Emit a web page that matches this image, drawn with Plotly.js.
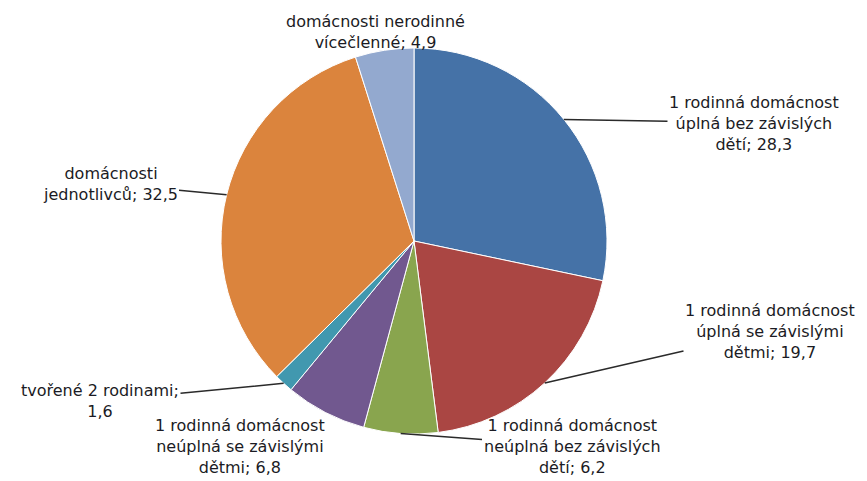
<!DOCTYPE html>
<html>
<head>
<meta charset="utf-8">
<script src="https://cdn.plot.ly/plotly-3.0.1.min.js"></script>
<style>html,body{margin:0;padding:0;background:#fff;}#chart{width:867px;height:481px;}</style>
</head>
<body>
<div id="chart"></div>
<script>
// ---- data ----
const categories = [
  "1 rodinná domácnost<br>úplná bez závislých<br>dětí",
  "1 rodinná domácnost<br>úplná se závislými<br>dětmi",
  "1 rodinná domácnost<br>neúplná bez závislých<br>dětí",
  "1 rodinná domácnost<br>neúplná se závislými<br>dětmi",
  "tvořené 2 rodinami",
  "domácnosti<br>jednotlivců",
  "domácnosti nerodinné<br>vícečlenné"
];
const values = [28.3, 19.7, 6.2, 6.8, 1.6, 32.5, 4.9];
const valueSeparators = ["; ", "; ", "; ", "; ", ";<br>", "; ", "; "];
const colors = ["#4572a7", "#aa4643", "#89a54e", "#71588f", "#4198af", "#db843d", "#93a9cf"];

// ---- layout / style ----
const W = 867, H = 481;
const cx = 414, cy = 241, R = 193;
// label block centres (pixels) and whether a leader line is drawn
const labelPos = [[754, 123], [770, 331], [572, 446], [240, 446], [100, 401], [110, 184], [375, 32]];
const leader = [true, true, true, false, true, true, false];

const total = values.reduce((a, b) => a + b, 0);
const annotations = [];
let cum = 0;
values.forEach((v, i) => {
  const mid = (cum + v / 2) / total * 2 * Math.PI;
  cum += v;
  const tx = cx + R * Math.sin(mid);
  const ty = cy - R * Math.cos(mid);
  const text = categories[i] + valueSeparators[i] + v.toFixed(1).replace('.', ',');
  const [lx, ly] = labelPos[i];
  const font = {family: "DejaVu Sans, Verdana, sans-serif", size: 16, color: "#1b1b24"};
  if (leader[i]) {
    annotations.push({
      xref: 'paper', yref: 'paper', x: tx / W, y: 1 - ty / H,
      ax: lx - tx, ay: ly - ty, axref: 'pixel', ayref: 'pixel',
      text: text, showarrow: true, arrowhead: 0, arrowwidth: 1.5, arrowcolor: '#2a2a2a',
      standoff: 0, startstandoff: 0, font: font, align: 'center'
    });
  } else {
    annotations.push({
      xref: 'paper', yref: 'paper', x: lx / W, y: 1 - ly / H,
      xanchor: 'center', yanchor: 'middle',
      text: text, showarrow: false, font: font, align: 'center'
    });
  }
});

const trace = {
  type: 'pie',
  labels: categories,
  values: values,
  sort: false,
  direction: 'clockwise',
  rotation: 0,
  textinfo: 'none',
  hoverinfo: 'skip',
  marker: {colors: colors, line: {color: '#ffffff', width: 1}},
  domain: {x: [(cx - R) / W, (cx + R) / W], y: [1 - (cy + R) / H, 1 - (cy - R) / H]},
  showlegend: false
};

const layout = {
  width: W, height: H,
  margin: {l: 0, r: 0, t: 0, b: 0},
  paper_bgcolor: '#ffffff',
  showlegend: false,
  annotations: annotations
};

Plotly.newPlot('chart', [trace], layout, {displayModeBar: false, staticPlot: true});
</script>
</body>
</html>
